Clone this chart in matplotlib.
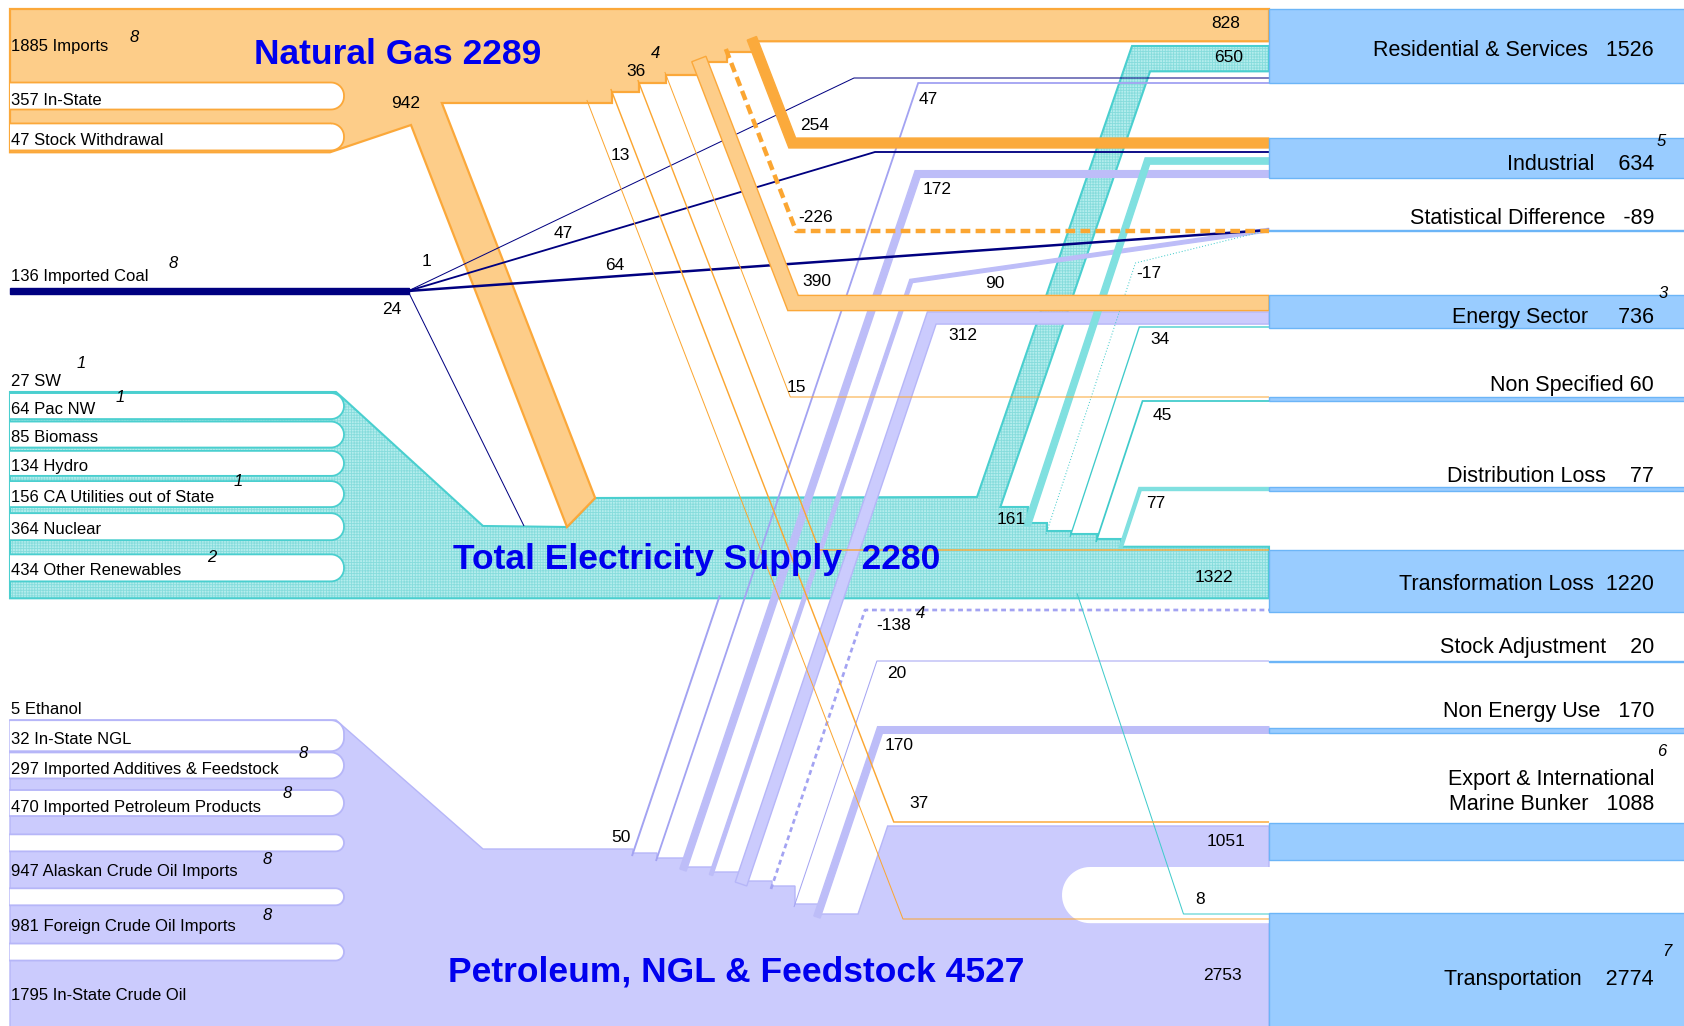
import numpy as np
import matplotlib.pyplot as plt
from matplotlib.patches import Polygon, Rectangle

plt.rcParams['font.family'] = ['Liberation Sans', 'DejaVu Sans']
plt.rcParams['hatch.linewidth'] = 0.6

# ---------------- data ----------------
gas_src_names = ['Imports', 'In-State', 'Stock Withdrawal']
gas_src = [1885, 357, 47]
gas_src_notes = ['8', '', '']

coal_src_name = 'Imported Coal'
coal_src = 136

elec_src_names = ['SW', 'Pac NW', 'Biomass', 'Hydro', 'CA Utilities out of State',
                  'Nuclear', 'Other Renewables']
elec_src = [27, 64, 85, 134, 156, 364, 434]
elec_src_notes = ['1', '1', '', '', '1', '', '2']

pet_src_names = ['Ethanol', 'In-State NGL', 'Imported Additives & Feedstock',
                 'Imported Petroleum Products', 'Alaskan Crude Oil Imports',
                 'Foreign Crude Oil Imports', 'In-State Crude Oil']
pet_src = [5, 32, 297, 470, 947, 981, 1795]
pet_src_notes = ['', '', '8', '8', '8', '8', '']

sink_names = ['Residential & Services', 'Industrial', 'Statistical Difference',
              'Energy Sector', 'Non Specified', 'Distribution Loss',
              'Transformation Loss', 'Stock Adjustment', 'Non Energy Use',
              'Export & International\nMarine Bunker', 'Transportation']
sink_totals = [1526, 634, -89, 736, 60, 77, 1220, 20, 170, 1088, 2774]
sink_gaps = ['   ', '    ', '   ', '     ', ' ', '    ', '  ', '    ', '   ', '   ', '    ']
sink_notes = ['', '5', '', '3', '', '', '', '', '', '6', '7']

# outflows of each source
gas_dest = ['Residential', 'Industrial', 'StatDiff', 'Energy', 'NonSpec',
            'TransLoss', 'Export', 'Transport', 'Electricity']
gas_out = [828, 254, -226, 390, 15, 36, 37, 13, 942]
coal_dest = ['Residential', 'Industrial', 'StatDiff', 'Electricity']
coal_out = [1, 47, 64, 24]
elec_dest = ['Residential', 'Industrial', 'StatDiff', 'Energy', 'NonSpec',
             'DistLoss', 'TransLoss', 'Transport']
elec_out = [650, 161, -17, 34, 45, 77, 1322, 8]
pet_dest = ['Residential', 'Industrial', 'StatDiff', 'Energy', 'Electricity',
            'TransLoss', 'StockAdj', 'NonEnergy', 'Export', 'Transport']
pet_out = [47, 172, 90, 312, 50, -138, 20, 170, 1051, 2753]

# ---------------- layout ----------------
S = 0.039           # pixels per unit of flow
NEG = 0.5           # negative flows drawn as dashed lines, half width
PT = 0.72           # points per pixel at 100 dpi
X0, XB, XR, XF = 10, 1269, 1684, 344

GAS_C = dict(fill='#FDCD89', edge='#FBA83A', solid='#FBAA3C', line='#FBA632')
ELEC_C = dict(fill='#B4EDED', hatch='#86DCDC', edge='#4ACFCF', solid='#80E0E0', line='#3FCBCB')
PET_C = dict(fill='#CBCBFD', edge='#B6B6F8', solid='#BDBDF8', line='#A3A3F2')
COAL_C = '#000080'
BOX_FILL, BOX_EDGE = '#99CCFF', '#6CB5F7'
TITLE_C = '#0000EE'

fig = plt.figure(figsize=(16.84, 10.26), dpi=100)
ax = fig.add_axes([0, 0, 1, 1])
ax.set_xlim(0, XR)
ax.set_ylim(1026, 0)
ax.axis('off')


def stack(top, vals, gaps):
    bands, fingers, y = [], [], top
    for i, v in enumerate(vals):
        bands.append((y, y + v * S))
        y += v * S
        if i < len(gaps):
            fingers.append((y, y + gaps[i]))
            y += gaps[i]
    return bands, fingers


def stair(x0, level0, starts):
    pts, prev = [(x0, level0)], level0
    for x, y in starts:
        pts += [(x, prev), (x, y)]
        prev = y
    return pts


def offset(pts, d):
    pts = np.asarray(pts, float)
    seg = np.diff(pts, axis=0)
    seg /= np.hypot(seg[:, 0], seg[:, 1])[:, None]
    nrm = np.c_[-seg[:, 1], seg[:, 0]]
    out = [pts[0] + d * nrm[0]]
    for i in range(1, len(pts) - 1):
        m = nrm[i - 1] + nrm[i]
        m /= np.hypot(*m)
        out.append(pts[i] + d / np.dot(m, nrm[i - 1]) * m)
    out.append(pts[-1] + d * nrm[-1])
    return np.array(out)


def route(r, slope):
    x, y, row = r['x'], r['y'], r['row']
    e = 3 if row > y else -3
    pts = [(x - slope * e, y - e), (x + slope * (row - y), row)]
    if r.get('end', 'box') == 'box':
        pts.append((XB, row))
    elif r.get('end') is not None:
        pts.append(r['end'])
    return pts


def draw_flow(pts, v, col, z=4):
    pts = np.asarray(pts, float)
    w = abs(v) * S * (NEG if v < 0 else 1)
    if v < 0:
        dash = (2.2, 1.2) if w > 3 else ((1.8, 1.4) if w > 1.5 else (1, 2))
        ax.plot(pts[:, 0], pts[:, 1], color=col['line'], lw=max(w, 1) * PT,
                dashes=dash, dash_capstyle='butt', solid_joinstyle='miter', zorder=z)
    elif w < 3:
        ax.plot(pts[:, 0], pts[:, 1], color=col['line'], lw=max(w, 1) * PT,
                solid_joinstyle='miter', solid_capstyle='butt', zorder=z)
    else:
        poly = np.vstack([offset(pts, w / 2), offset(pts, -w / 2)[::-1]])
        fc = col['fill'] if w >= 12 else col['solid']
        ec = col['edge'] if w >= 12 else col['solid']
        ax.add_patch(Polygon(poly, closed=True, fc=fc, ec=ec, lw=1,
                             joinstyle='miter', zorder=z))


def finger(top, bot, edge, x_end=XF, z=3):
    r = min((bot - top) / 2, 13)
    cx = x_end - r
    a1 = np.linspace(-np.pi / 2, 0, 12)
    a2 = np.linspace(0, np.pi / 2, 12)
    pts = [(X0, top), (cx, top)]
    pts += list(zip(cx + r * np.cos(a1), top + r + r * np.sin(a1)))
    pts += list(zip(cx + r * np.cos(a2), bot - r + r * np.sin(a2)))
    pts += [(X0, bot)]
    pts = np.array(pts)
    ax.add_patch(Polygon(pts, closed=True, fc='white', ec='none', zorder=z))
    ax.plot(pts[:, 0], pts[:, 1], color=edge, lw=1.3, zorder=z)


# ---------------- gas ----------------
GAS_TOP = 9
gas_bands, gas_fingers = stack(GAS_TOP, gas_src, [27, 27])
gas_bot = gas_bands[-1][1]
res_gas_bot = GAS_TOP + gas_out[0] * S
GAS_SLOPE = 0.386
TL_BOX_TOP = 550
gas_route = {1: dict(x=753, y=res_gas_bot, row=143),
             2: dict(x=727, y=52, row=231),
             3: dict(x=700, y=62, row=303),
             4: dict(x=666, y=75, row=397),
             5: dict(x=639, y=83, row=TL_BOX_TOP),
             6: dict(x=612, y=92, row=822),
             7: dict(x=588, y=103, row=919)}
TRUNK = [(411, 125), (567, 527)]
tslope = (TRUNK[1][0] - TRUNK[0][0]) / (TRUNK[1][1] - TRUNK[0][1])
tw = gas_out[8] * S * np.hypot(1, tslope)


def trunk_right(y):
    return TRUNK[0][0] + tw + tslope * (y - TRUNK[0][1])


ELEC_TOP = 498

# ---------------- electricity ----------------
elec_bands, elec_fingers = stack(392, elec_src, [26, 26, 25, 26, 27, 27])
ELEC_BOT = elec_bands[-1][1]
TL_TOP = ELEC_BOT - elec_out[6] * S
R0, R1 = (977, 497), (1132, 46)
rslope = (R1[0] - R0[0]) / (R1[1] - R0[1])
rw = elec_out[0] * S * np.hypot(1, rslope)
res_elec_bot = R1[1] + elec_out[0] * S


def res_right(y):
    return R0[0] + rw + rslope * (y - R0[1])


ELEC_SLOPE = -0.33
elec_route = {1: dict(x=1028, y=523, row=161),
              2: dict(x=1047, y=531, row=263, end=(XB, 230)),
              3: dict(x=1071, y=534, row=327),
              4: dict(x=1097, y=539, row=401),
              5: dict(x=1121, y=TL_TOP, row=489)}

# ---------------- petroleum ----------------
pet_bands, pet_fingers = stack(720, pet_src, [31, 26, 26, 17, 17, 17])
PET_BOT = pet_bands[-1][1]
TRANS_TOP = PET_BOT - pet_out[9] * S
EXPORT_TOP = 826
EXPORT_BOT = EXPORT_TOP + pet_out[8] * S
EXPORT_FOOT = (858, 914)
PET_SLOPE = -0.337
pet_route = {0: dict(x=657, y=858, row=83),
             1: dict(x=684, y=867, row=174),
             2: dict(x=712, y=872, row=281, end=(XB, 230)),
             3: dict(x=742, y=881, row=318),
             4: dict(x=633, y=853, row=ELEC_BOT - 3, end=None),
             5: dict(x=772, y=886, row=610),
             6: dict(x=795, y=904, row=661),
             7: dict(x=818, y=914, row=730)}

# ---------- bodies ----------
# electricity
e_starts = sorted((r['x'], r['y']) for r in elec_route.values())
e_stairs = stair(res_right(507), 507, e_starts) + [(XB, TL_TOP)]
elec_poly = ([(X0, 392), (336, 392), (XF, 399), (483, 526), TRUNK[1],
              (trunk_right(ELEC_TOP), ELEC_TOP), R0, R1, (XB, R1[1]),
              (XB, res_elec_bot), (res_right(res_elec_bot), res_elec_bot)]
             + e_stairs + [(XB, ELEC_BOT), (X0, ELEC_BOT)])
ax.add_patch(Polygon(elec_poly, closed=True, fc=ELEC_C['fill'], ec='none', zorder=1))
ax.add_patch(Polygon(elec_poly, closed=True, fc='none', ec=ELEC_C['hatch'], lw=0,
                     hatch='++++++', zorder=1.1))
ax.add_patch(Polygon(elec_poly, closed=True, fc='none', ec=ELEC_C['edge'], lw=1.5, zorder=1.2))

# petroleum
p_starts = sorted((r['x'], r['y']) for r in pet_route.values()) + [EXPORT_FOOT]
exp_x = EXPORT_FOOT[0] + PET_SLOPE * (EXPORT_TOP - EXPORT_FOOT[1])
pet_poly = ([(X0, 720), (336, 720), (XF, 727)] + stair(483, 849, p_starts)
            + [(exp_x, EXPORT_TOP), (XB, EXPORT_TOP), (XB, 1040), (X0, 1040)])
ax.add_patch(Polygon(pet_poly, closed=True, fc=PET_C['fill'], ec=PET_C['edge'], lw=1, zorder=1))

# gas
g_starts = sorted((r['x'], r['y']) for r in gas_route.values())
lvl0 = g_starts[0][1]
g_bottom = stair(trunk_right(lvl0), lvl0, g_starts[1:]) + [(XB, g_starts[-1][1])]
gas_poly = ([(X0, GAS_TOP), (XB, GAS_TOP)] + g_bottom[::-1]
            + [(trunk_right(ELEC_TOP), ELEC_TOP), TRUNK[1], TRUNK[0], (330, gas_bot), (X0, gas_bot)])
ax.add_patch(Polygon(gas_poly, closed=True, fc=GAS_C['fill'], ec=GAS_C['edge'], lw=1.6, zorder=2))

# fingers (gaps between source bands)
for t, b in gas_fingers:
    finger(t, b, GAS_C['edge'])
for t, b in elec_fingers:
    finger(t, b, ELEC_C['edge'])
for t, b in pet_fingers:
    finger(t, b, PET_C['edge'])

# white gap between export band and transportation band
r = (TRANS_TOP - EXPORT_BOT) / 2
cy = (TRANS_TOP + EXPORT_BOT) / 2
a = np.linspace(-np.pi / 2, -3 * np.pi / 2, 30)
gap = [(XB + 5, EXPORT_BOT)]
gap += list(zip(1062 + r + r * np.cos(a), cy + r * np.sin(a)))
gap += [(XB + 5, TRANS_TOP)]
ax.add_patch(Polygon(gap, closed=True, fc='white', ec='none', zorder=2.5))

# ---------- flows ----------
for i, r_ in pet_route.items():
    draw_flow(route(r_, PET_SLOPE), pet_out[i], PET_C)

for i, r_ in elec_route.items():
    draw_flow(route(r_, ELEC_SLOPE), elec_out[i], ELEC_C)
# electricity -> transportation leaves from the bottom of the band
draw_flow(route(dict(x=1078, y=ELEC_BOT - 2, row=914), 0.332), elec_out[7], ELEC_C)

COAL_Y, COAL_X = 291, 408
coal_paths = [[(COAL_X, COAL_Y), (854, 78), (XB, 78)],
              [(COAL_X, COAL_Y), (875, 152), (XB, 152)],
              [(COAL_X, COAL_Y), (XB, 230)],
              [(COAL_X, COAL_Y), (524, 526)]]
coal_col = dict(fill=COAL_C, edge=COAL_C, solid=COAL_C, line=COAL_C)
draw_flow([(X0, COAL_Y), (COAL_X + 1, COAL_Y)], coal_src, coal_col, z=5)
for p, v in zip(coal_paths, coal_out):
    draw_flow(p, v, coal_col, z=5)

for i, r_ in gas_route.items():
    draw_flow(route(r_, GAS_SLOPE), gas_out[i], GAS_C, z=6)

# ---------- sink boxes ----------
sink_box = [(9, 83), (138, 178), (229.5, 230.5), (295, 328), (397, 401), (487, 491),
            (TL_BOX_TOP, 612), (660.5, 661.5), (728, 733), (823, 860), (913, 1030)]
for t, b in sink_box:
    ax.add_patch(Rectangle((XB, t), XR - XB + 5, b - t, fc=BOX_FILL, ec=BOX_EDGE,
                           lw=1, zorder=7))

# ---------- text ----------
tkw = dict(fontsize=12, va='center', ha='left', zorder=10)
nkw = dict(fontsize=12, style='italic', va='center', ha='left', zorder=10)

ax.text(X0 + 1, (gas_bands[0][0] + gas_bands[0][1]) / 2 + 1, f'{gas_src[0]} {gas_src_names[0]}', **tkw)
for (t, b), v, n in zip(gas_fingers, gas_src[1:], gas_src_names[1:]):
    ax.text(X0 + 1, (t + b) / 2 + 4, f'{v} {n}', **tkw)
gas_note_xy = [(130, 38), None, None]
for nt, xy in zip(gas_src_notes, gas_note_xy):
    if nt:
        ax.text(*xy, nt, **nkw)

ax.text(X0 + 1, 276, f'{coal_src} {coal_src_name}', **tkw)
ax.text(169, 263, '8', **nkw)

ax.text(X0 + 1, elec_bands[0][0] - 11, f'{elec_src[0]} {elec_src_names[0]}', **tkw)
for (t, b), v, n in zip(elec_fingers, elec_src[1:], elec_src_names[1:]):
    ax.text(X0 + 1, (t + b) / 2 + 3, f'{v} {n}', **tkw)
elec_note_xy = [(77, 364), (116, 397), None, None, (234, 482), None, (207, 557)]
for nt, xy in zip(elec_src_notes, elec_note_xy):
    if nt:
        ax.text(*xy, nt, **nkw)

pet_place = ['above', 'finger', 'finger', 'finger', 'band', 'band', 'band']
for i, (v, n, pl) in enumerate(zip(pet_src, pet_src_names, pet_place)):
    if pl == 'above':
        y = pet_bands[i][0] - 11
    elif pl == 'finger':
        t, b = pet_fingers[i - 1]
        y = (t + b) / 2 + 4
    else:
        t, b = pet_bands[i]
        y = (t + min(b, 1026)) / 2 + 2
    ax.text(X0 + 1, y, f'{v} {n}', **tkw)
pet_note_xy = [None, None, (299, 753), (283, 793), (263, 860), (263, 916), None]
for nt, xy in zip(pet_src_notes, pet_note_xy):
    if nt:
        ax.text(*xy, nt, **nkw)

# flow value labels
fkw = dict(fontsize=12.5, va='center', ha='left', zorder=10)
gas_lab_xy = [(1211, 24), (800, 126), (798, 217), (802, 282), (787, 387),
              (626, 71), (909, 803), (611, 156), (391, 103)]
coal_lab_xy = [(422, 262), (554, 233), (605, 265), (382, 309)]
elec_lab_xy = [(1214, 58), (997, 519), (1136, 273), (1150, 340), (1153, 415),
               (1146, 503), (1195, 577), (1195, 899)]
pet_lab_xy = [(919, 100), (923, 189), (985, 284), (948, 336), (611, 838),
              (876, 626), (887, 674), (885, 745), (1207, 842), (1203, 976)]
for vals, xys in [(gas_out, gas_lab_xy), (coal_out, coal_lab_xy),
                  (elec_out, elec_lab_xy), (pet_out, pet_lab_xy)]:
    for v, xy in zip(vals, xys):
        ax.text(*xy, str(v), **fkw)
ax.text(651, 54, '4', **nkw)
ax.text(916, 614, '4', **nkw)

# sink labels
sink_label_y = [51, 164, 219, 317, 386, 477, 584, 648, 711, 792, 980]
sink_note_xy = [None, (1657, 141), None, (1659, 294), None, None, None, None, None,
                (1657, 752), (1662, 951)]
for n, v, g, y, nt, xy in zip(sink_names, sink_totals, sink_gaps, sink_label_y,
                              sink_notes, sink_note_xy):
    ax.text(1654, y, f'{n}{g}{v}', fontsize=15.5, ha='right', va='center',
            multialignment='right', linespacing=1.25, zorder=10)
    if nt:
        ax.text(*xy, nt, **nkw)

# titles
elec_total = sum(elec_src) + gas_out[8] + coal_out[3] + pet_out[4]
tt = dict(fontsize=25.5, fontweight='bold', color=TITLE_C, ha='center', va='center', zorder=11)
ax.text(398, 54, f'Natural Gas {sum(gas_src)}', **tt)
ax.text(697, 560, f'Total Electricity Supply  {elec_total}', **tt)
ax.text(736, 972, f'Petroleum, NGL & Feedstock {sum(pet_src)}', **tt)

fig.savefig('out.png', dpi=100)
